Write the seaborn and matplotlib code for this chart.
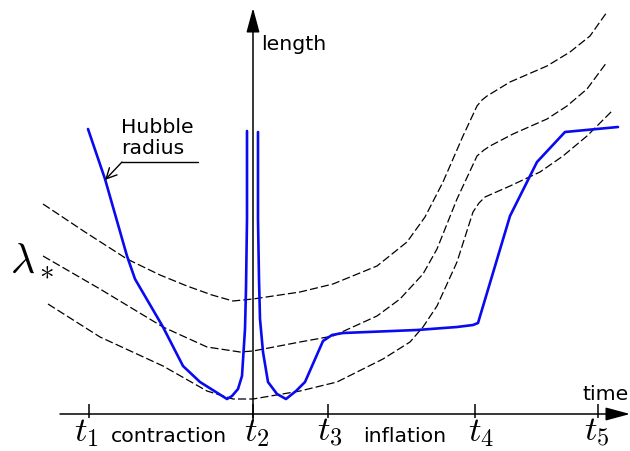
import numpy as np
import pandas as pd
import matplotlib as mpl
import matplotlib.pyplot as plt
import seaborn as sns

# Configure plotting
sns.set_style('white')
plt.rcParams['font.family'] = ['DejaVu Sans']
mpl.rcParams.update({'mathtext.fontset': 'cm', 'text.color': 'black'})

# Sketch coordinates: x to the right, y downwards
hubble_left_x = [88, 105, 127, 135, 163, 183, 200, 227, 232, 238, 242, 245,
                 246, 247, 247]
hubble_left_y = [130, 180, 257, 280, 328, 367, 383, 400, 397, 390, 377, 330,
                 290, 220, 132]
hubble_right_x = [258, 258, 259, 260, 263, 268, 277, 286, 296, 305, 323, 332,
                  343, 417, 457, 473, 478, 510, 537, 565, 618]
hubble_right_y = [133, 220, 280, 320, 353, 383, 395, 400, 392, 383, 342, 336,
                  334, 331, 328, 326, 324, 217, 163, 133, 128]

mode_x = {
    'top': [43, 85, 127, 160, 187, 212, 233, 253, 300, 333, 377, 407, 425,
            443, 463, 477, 482, 487, 510, 547, 570, 590, 607],
    'mid': [43, 100, 163, 207, 240, 253, 300, 333, 377, 400, 423, 437, 457,
            477, 484, 490, 513, 547, 567, 587, 607],
    'low': [48, 100, 163, 207, 233, 253, 300, 337, 383, 410, 423, 437, 457,
            473, 479, 485, 510, 540, 563, 587, 612],
}
mode_y = {
    'top': [205, 233, 260, 276, 287, 296, 302, 300, 293, 285, 267, 243, 218,
            183, 137, 107, 101, 97, 83, 67, 53, 37, 13],
    'mid': [257, 290, 328, 348, 353, 352, 343, 337, 317, 300, 275, 250, 200,
            157, 151, 147, 135, 120, 107, 90, 63],
    'low': [305, 338, 367, 392, 400, 400, 392, 383, 360, 343, 328, 307, 263,
            213, 204, 198, 187, 173, 157, 137, 112],
}

tick_x = [89, 253, 328, 475, 598]
tick_labels = [r'$t_1$', r'$t_2$', r'$t_3$', r'$t_4$', r'$t_5$']
label_x = [86, 257, 330, 481, 597]
phase_names = ['contraction', 'inflation']
phase_x = [169, 405]

axis_y = 415

fig = plt.figure(figsize=(6.3, 4.52), dpi=100)
ax = fig.add_axes([0, 0, 1, 1])
ax.set_xlim(0, 630)
ax.set_ylim(452, 0)
ax.axis('off')

# dashed mode wavelengths
for key in ['top', 'mid', 'low']:
    df = pd.DataFrame({'x': mode_x[key], 'y': mode_y[key]})
    sns.lineplot(data=df, x='x', y='y', sort=False, estimator=None,
                 color='black', lw=0.9, linestyle=(0, (6.5, 2.5)), ax=ax)

# Hubble radius
for hx, hy in [(hubble_left_x, hubble_left_y), (hubble_right_x, hubble_right_y)]:
    df = pd.DataFrame({'x': hx, 'y': hy})
    sns.lineplot(data=df, x='x', y='y', sort=False, estimator=None,
                 color='#0a0af0', lw=1.9, ax=ax)

# axes with arrows
head = '-|>,head_length=1.0,head_width=0.27'
ax.annotate('', xy=(630, axis_y), xytext=(60, axis_y), annotation_clip=False,
            arrowprops=dict(arrowstyle=head, lw=1.1, color='black',
                            mutation_scale=15, shrinkA=0, shrinkB=0))
ax.annotate('', xy=(253, 9), xytext=(253, 421), annotation_clip=False,
            arrowprops=dict(arrowstyle=head, lw=1.1, color='black',
                            mutation_scale=15, shrinkA=0, shrinkB=0))
ax.vlines(tick_x, axis_y - 10, axis_y + 4, color='black', lw=1.1)

for x, lab in zip(label_x, tick_labels):
    ax.text(x, 449, lab, fontsize=25, ha='center', va='bottom')
for x, name in zip(phase_x, phase_names):
    ax.text(x, 437, name, fontsize=14.7, ha='center', va='center')

ax.text(261, 45, 'length', fontsize=14.7, ha='left', va='center')
ax.text(629, 395, 'time', fontsize=14.7, ha='right', va='center')
ax.text(10, 260, r'$\lambda_*$', fontsize=30, ha='left', va='center')

# Hubble radius label with leader
ax.text(121, 138, 'Hubble\nradius', fontsize=14.7, ha='left', va='center',
        linespacing=1.1)
ax.plot([122, 198], [163, 163], color='black', lw=1.0)
ax.annotate('', xy=(105, 181), xytext=(122, 163),
            arrowprops=dict(arrowstyle='->,head_length=0.5,head_width=0.25',
                            lw=1.0, color='black', mutation_scale=15,
                            shrinkA=0, shrinkB=0))

fig.savefig('out.png', dpi=100)
